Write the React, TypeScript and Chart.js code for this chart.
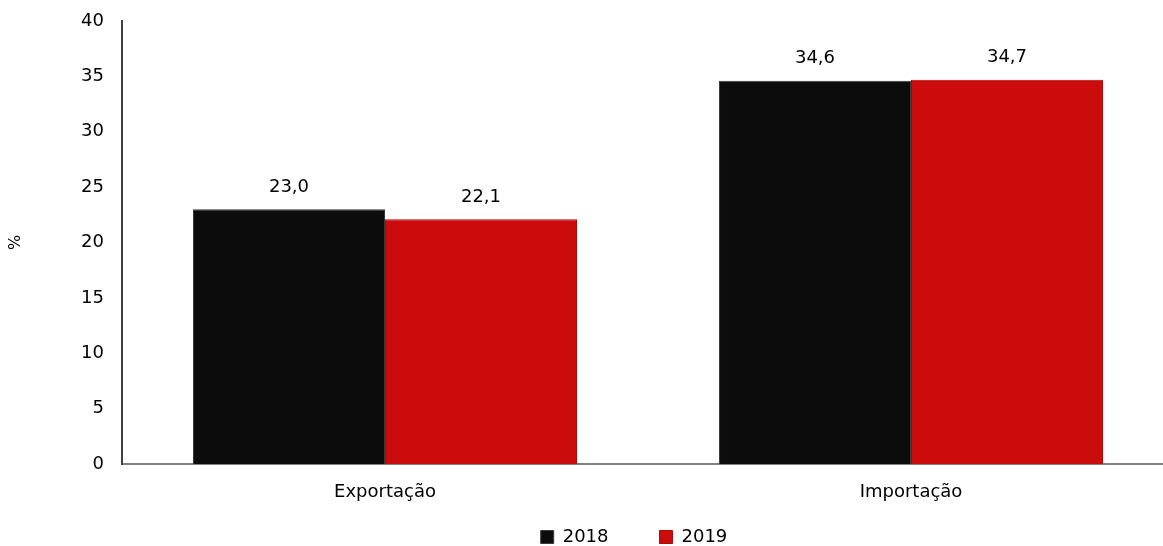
import React, { useEffect, useRef } from "react";
import { Chart, registerables } from "chart.js";

Chart.register(...registerables);

const categories = ["Exportação", "Importação"];
const seriesLabels = ["2018", "2019"];
const values2018 = [23.0, 34.6];
const values2019 = [22.1, 34.7];
const yTicks = [0, 5, 10, 15, 20, 25, 30, 35, 40];

const fmt = (v: number) => v.toFixed(1).replace(".", ",");

const valueLabels = {
  id: "valueLabels",
  afterDatasetsDraw(chart: any) {
    const ctx = chart.ctx;
    ctx.save();
    ctx.font = '18px "DejaVu Sans"';
    ctx.fillStyle = "#000";
    ctx.textAlign = "center";
    ctx.textBaseline = "middle";
    chart.data.datasets.forEach((ds: any, i: number) => {
      const meta = chart.getDatasetMeta(i);
      meta.data.forEach((el: any, j: number) => {
        ctx.fillText(fmt(ds.data[j]), el.x, el.y - 22);
      });
    });
    ctx.restore();
  },
};

const legendPlacer = {
  id: "legendPlacer",
  afterLayout(chart: any) {
    const lg = chart.legend;
    if (!lg) return;
    const shift = 634 - (lg.left + lg.right) / 2;
    lg.left += shift;
    lg.right += shift;
    lg.top = 477;
    lg.bottom = 546;
  },
};

export default function App() {
  const ref = useRef<HTMLCanvasElement>(null);
  useEffect(() => {
    if (!ref.current) return;
    Chart.defaults.font.family = '"DejaVu Sans"';
    Chart.defaults.font.size = 18;
    Chart.defaults.color = "#000";
    const chart = new Chart(ref.current, {
      type: "bar",
      data: {
        labels: categories,
        datasets: [
          {
            label: seriesLabels[0],
            data: values2018,
            backgroundColor: "#0c0c0c",
            borderColor: "#3a3a3a",
            borderWidth: 1,
            categoryPercentage: 0.73,
            barPercentage: 1,
          },
          {
            label: seriesLabels[1],
            data: values2019,
            backgroundColor: "#cc0c0c",
            borderColor: "#b00808",
            borderWidth: 1,
            categoryPercentage: 0.73,
            barPercentage: 1,
          },
        ],
      },
      options: {
        responsive: false,
        animation: false,
        layout: { padding: { top: 21, left: 0, right: 0, bottom: 0 } },
        plugins: {
          legend: {
            position: "bottom",
            maxHeight: 30,
            labels: {
              boxWidth: 13,
              boxHeight: 13,
              padding: 51,
              font: { size: 18 },
              color: "#000",
            },
          },
          tooltip: { enabled: false },
        },
        scales: {
          x: {
            grid: { display: false, drawTicks: false },
            border: { display: true, color: "#808080", width: 2 },
            ticks: { padding: 18, font: { size: 18 }, color: "#000" },
            afterFit: (s: any) => {
              s.height = 52;
            },
          },
          y: {
            min: 0,
            max: 40,
            grid: { display: false, drawTicks: false },
            border: { display: true, color: "#404040", width: 2 },
            afterBuildTicks: (s: any) => {
              s.ticks = yTicks.map((v) => ({ value: v }));
            },
            ticks: { padding: 18, font: { size: 18 }, color: "#000" },
            title: {
              display: true,
              text: "%",
              font: { size: 16 },
              color: "#000",
              padding: { top: 6, bottom: 4 },
            },
            afterFit: (s: any) => {
              s.width = 122;
              s.paddingTop = 0;
              s.paddingBottom = 0;
            },
          },
        },
      },
      plugins: [valueLabels, legendPlacer],
    });
    return () => chart.destroy();
  }, []);
  return (
    <div
      style={{
        position: "absolute",
        left: 0,
        top: 0,
        width: 1163,
        height: 546,
        overflow: "hidden",
        background: "#fff",
      }}
    >
      <canvas ref={ref} width={1174} height={546} />
    </div>
  );
}
